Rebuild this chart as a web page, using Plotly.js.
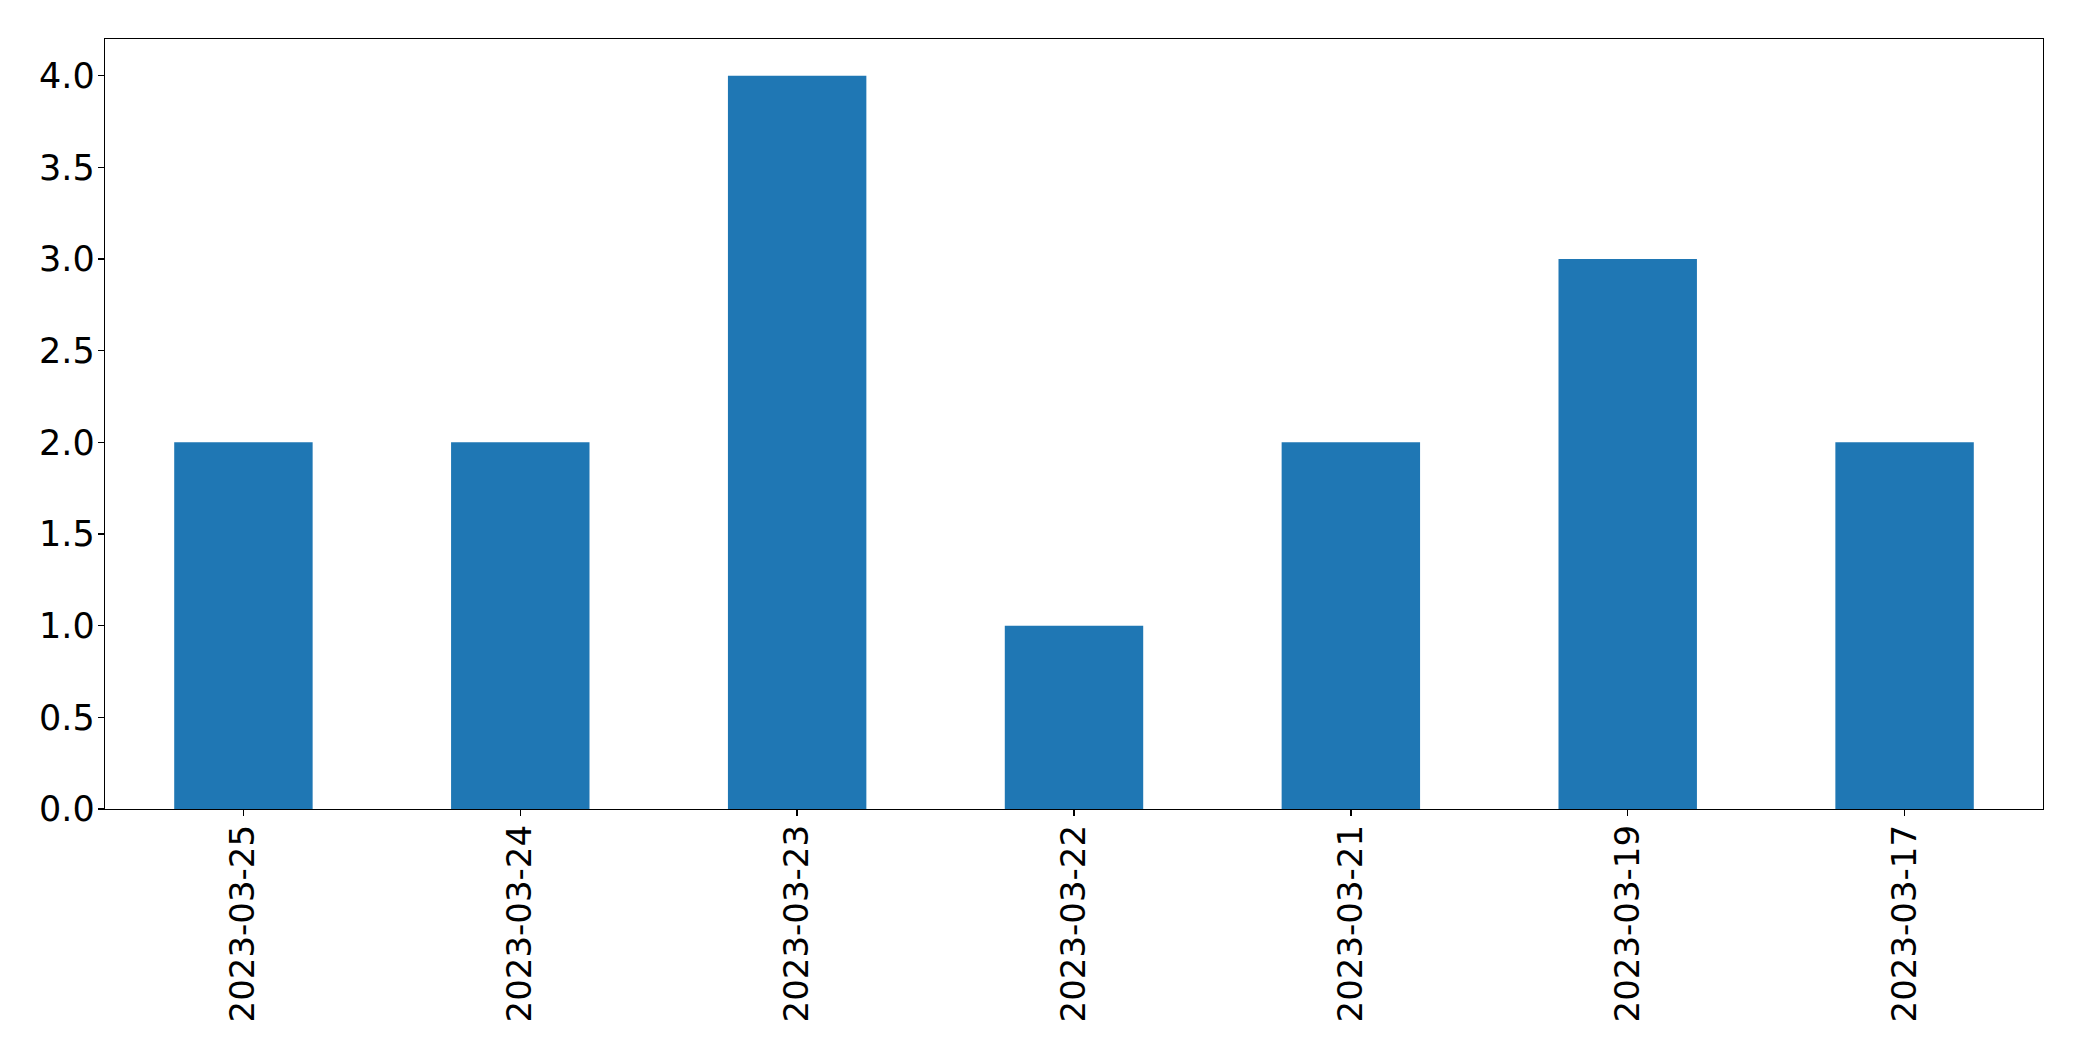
<!DOCTYPE html>
<html>
<head>
<meta charset="utf-8">
<script src="https://cdn.plot.ly/plotly-3.0.1.min.js"></script>
<style>html,body{margin:0;padding:0;background:#fff;}#chart{width:2082px;height:1061px;}</style>
</head>
<body>
<div id="chart"></div>
<script>
const categories = ["2023-03-25", "2023-03-24", "2023-03-23", "2023-03-22", "2023-03-21", "2023-03-19", "2023-03-17"];
const values = [2, 2, 4, 1, 2, 3, 2];

const trace = {
  type: 'bar',
  x: categories,
  y: values,
  width: 0.5,
  marker: {color: '#1f77b4', line: {width: 0}},
  hoverinfo: 'x+y'
};

const layout = {
  width: 2082,
  height: 1061,
  paper_bgcolor: '#ffffff',
  plot_bgcolor: '#ffffff',
  margin: {l: 105, r: 39, t: 39, b: 252, pad: 0},
  showlegend: false,
  font: {family: 'DejaVu Sans', size: 34, color: '#000000'},
  xaxis: {
    type: 'category',
    range: [-0.5, 6.5],
    tickangle: -90,
    showline: true, linecolor: '#000', linewidth: 1.3, mirror: true,
    ticks: 'outside', ticklen: 6, tickwidth: 1.3, tickcolor: '#000',
    ticklabelstandoff: -5,
    showgrid: false, zeroline: false,
    tickfont: {family: 'DejaVu Sans', size: 34, color: '#000'}
  },
  yaxis: {
    range: [0, 4.2],
    tick0: 0, dtick: 0.5, tickformat: '.1f',
    showline: true, linecolor: '#000', linewidth: 1.3, mirror: true,
    ticks: 'outside', ticklen: 6, tickwidth: 1.3, tickcolor: '#000',
    ticklabelstandoff: -4,
    showgrid: false, zeroline: false,
    tickfont: {family: 'DejaVu Sans', size: 35, color: '#000'}
  }
};

Plotly.newPlot('chart', [trace], layout, {displayModeBar: false, staticPlot: true});
</script>
</body>
</html>
